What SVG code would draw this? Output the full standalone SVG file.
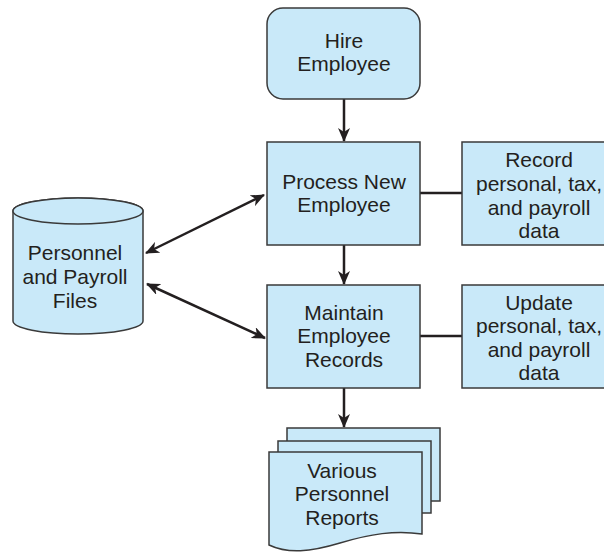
<svg xmlns="http://www.w3.org/2000/svg" width="604" height="553" viewBox="0 0 604 553">
<defs>
<style>
.box{fill:#c9e9f9;stroke:#3a3a3a;stroke-width:1.5}
.t{font-family:"Liberation Sans",Arial,sans-serif;font-size:21px;fill:#231f20;text-anchor:middle}
.c{stroke:#231f20;stroke-width:2.5;fill:none}
</style>
<marker id="ah" viewBox="0 0 14 12" refX="13" refY="6" markerWidth="14" markerHeight="12" markerUnits="userSpaceOnUse" orient="auto-start-reverse">
<path d="M0,0 L14,6 L0,12 L4,6 Z" fill="#231f20"/>
</marker>
</defs>
<rect width="604" height="553" fill="#ffffff"/>
<g id="connectors">
<line class="c" x1="344" y1="99" x2="344" y2="141" marker-end="url(#ah)"/>
<line class="c" x1="344" y1="245" x2="344" y2="284" marker-end="url(#ah)"/>
<line class="c" x1="344" y1="388" x2="344" y2="427" marker-end="url(#ah)"/>
<line class="c" x1="420" y1="193" x2="462" y2="193"/>
<line class="c" x1="420" y1="336" x2="462" y2="336"/>
<line class="c" x1="146" y1="253" x2="264" y2="195" marker-start="url(#ah)" marker-end="url(#ah)"/>
<line class="c" x1="147" y1="284" x2="265" y2="338" marker-start="url(#ah)" marker-end="url(#ah)"/>
</g>
<g id="hire">
<rect class="box" x="267" y="8" width="153" height="91" rx="16"/>
<text class="t" x="344" y="48">Hire</text>
<text class="t" x="344" y="71">Employee</text>
</g>
<g id="process">
<rect class="box" x="267" y="142" width="153" height="103"/>
<text class="t" x="344" y="189">Process New</text>
<text class="t" x="344" y="212">Employee</text>
</g>
<g id="record">
<rect class="box" x="462" y="142" width="150" height="103"/>
<text class="t" x="539" y="167">Record</text>
<text class="t" x="539" y="191">personal, tax,</text>
<text class="t" x="539" y="215">and payroll</text>
<text class="t" x="539" y="238">data</text>
</g>
<g id="maintain">
<rect class="box" x="267" y="285" width="153" height="103"/>
<text class="t" x="344" y="320">Maintain</text>
<text class="t" x="344" y="343">Employee</text>
<text class="t" x="344" y="367">Records</text>
</g>
<g id="update">
<rect class="box" x="462" y="285" width="150" height="103"/>
<text class="t" x="539" y="310">Update</text>
<text class="t" x="539" y="333">personal, tax,</text>
<text class="t" x="539" y="357">and payroll</text>
<text class="t" x="539" y="380">data</text>
</g>
<g id="files">
<path class="box" d="M13,211 V321 A65,13 0 0 0 143,321 V211 A65,13 0 0 0 13,211 Z"/>
<ellipse class="box" cx="78" cy="211" rx="65" ry="13"/>
<text class="t" x="75" y="260">Personnel</text>
<text class="t" x="75" y="284">and Payroll</text>
<text class="t" x="75" y="308">Files</text>
</g>
<g id="reports">
<rect class="box" x="287" y="428" width="153" height="73"/>
<rect class="box" x="278" y="441" width="153" height="72"/>
<path class="box" d="M269,452 H422 V534 C395,530 370,534 340,543 C310,552 288,554 269,545 Z"/>
<text class="t" x="342" y="478">Various</text>
<text class="t" x="342" y="501">Personnel</text>
<text class="t" x="342" y="525">Reports</text>
</g>
</svg>
